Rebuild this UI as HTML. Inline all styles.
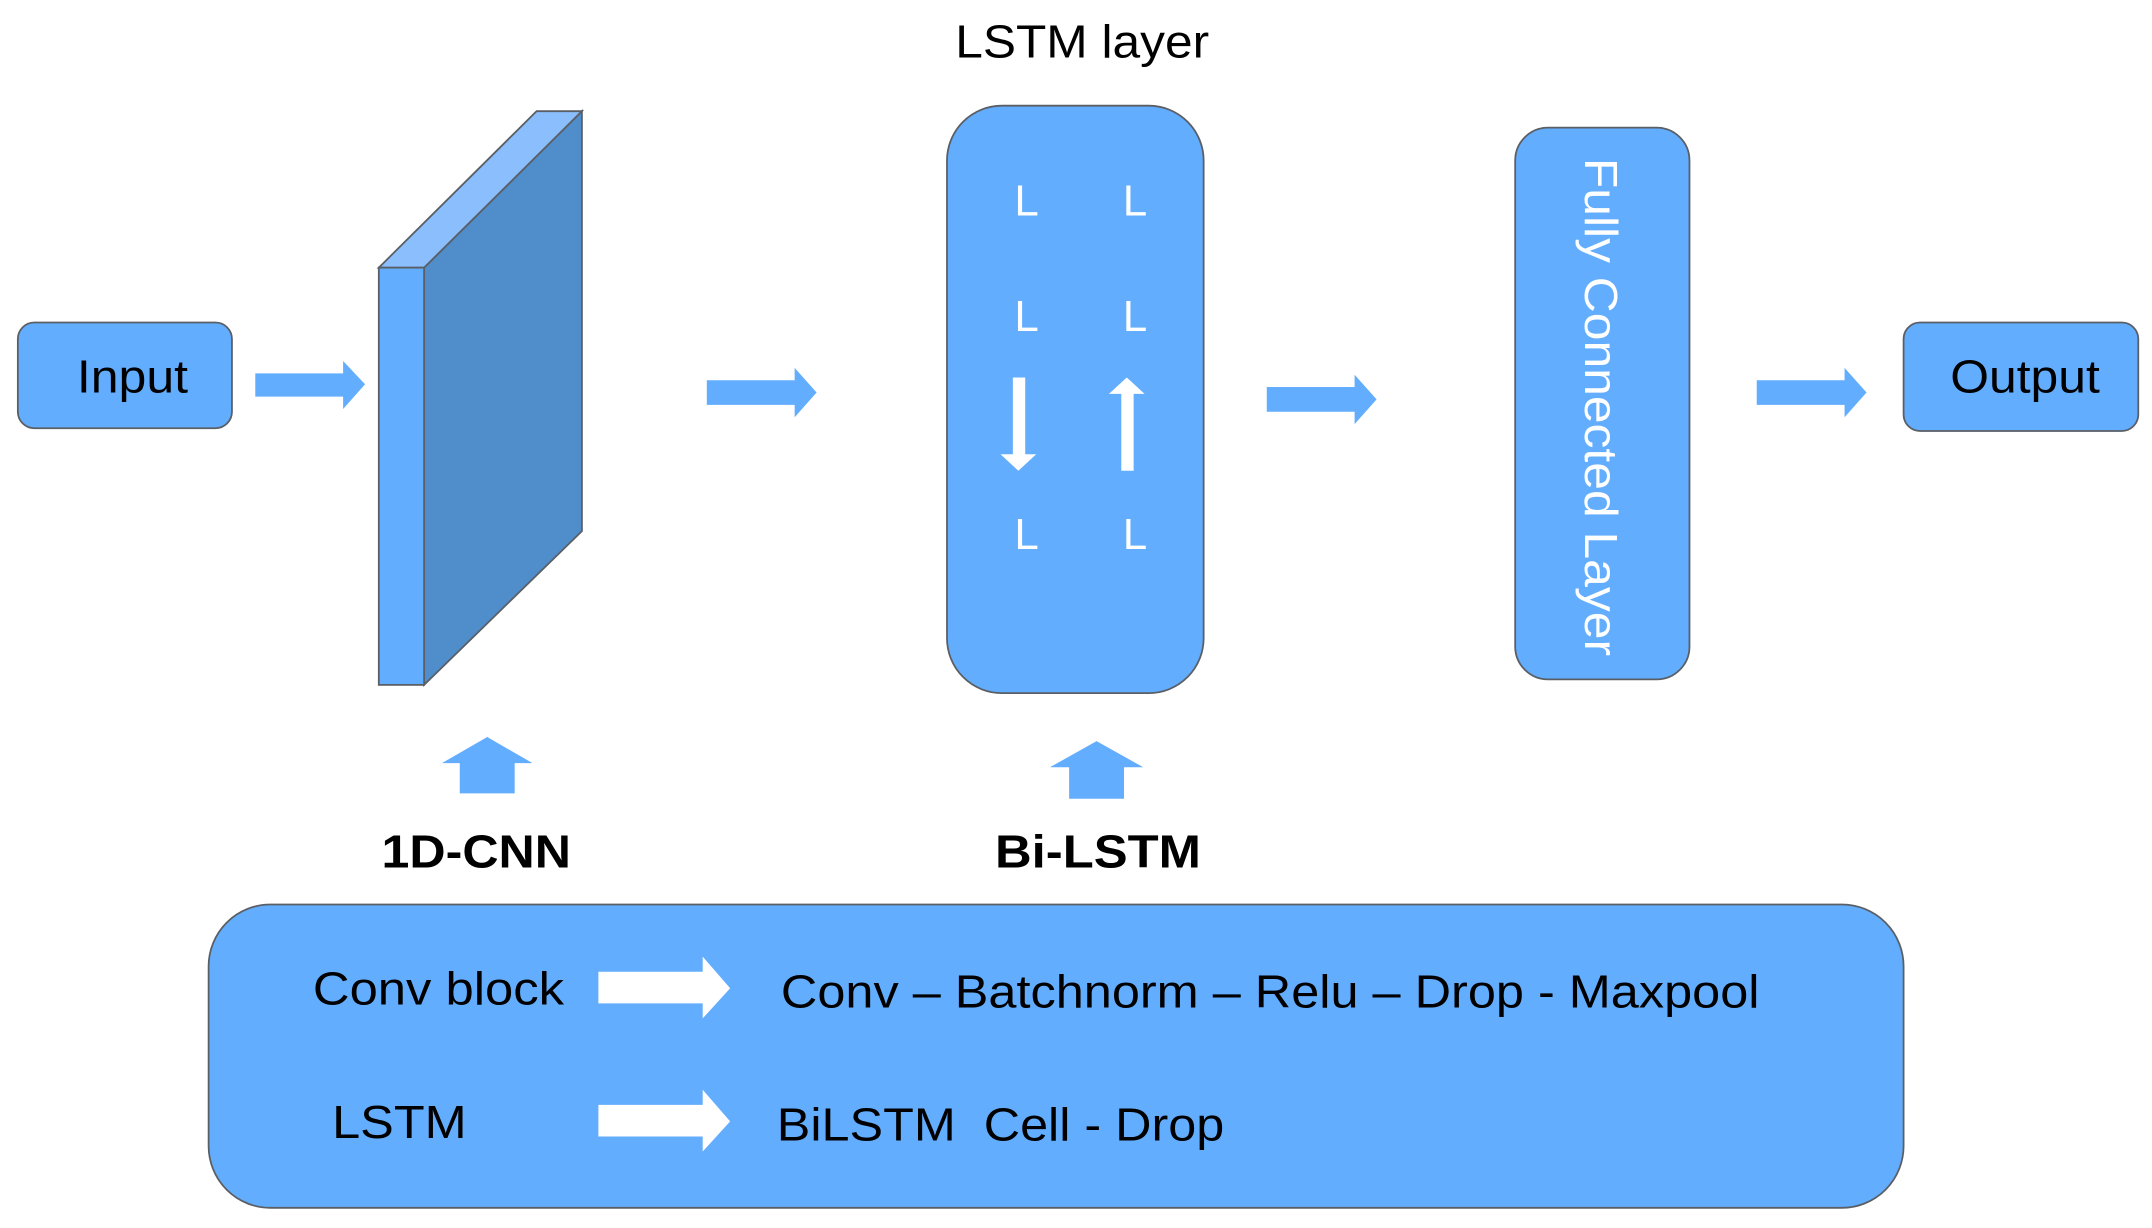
<!DOCTYPE html>
<html><head><meta charset="utf-8"><style>
html,body{margin:0;padding:0;background:#fff;}
svg{display:block;}
text{font-family:"Liberation Sans",Arial,sans-serif;}
</style></head><body>
<svg width="2152" height="1228" viewBox="0 0 1568 894.7" preserveAspectRatio="none" xmlns="http://www.w3.org/2000/svg">
<g stroke="#5a5f66" stroke-width="1.3">
<rect x="13" y="235" width="156" height="77" rx="12" fill="#63adfe"/>
<polygon points="309,195 424,81 424,387 309,499" fill="#4f8dcb"/>
<polygon points="276,195 391,81 424,81 309,195" fill="#8abefc"/>
<rect x="276" y="195" width="33" height="304" fill="#63adfe"/>
<rect x="690" y="77" width="187" height="428" rx="40" fill="#63adfe"/>
<rect x="1104" y="93" width="127" height="402" rx="24" fill="#63adfe"/>
<rect x="1387" y="235" width="171" height="79" rx="12" fill="#63adfe"/>
<rect x="152" y="659" width="1235" height="221" rx="45" fill="#63adfe"/>
</g>
<g fill="#63adfe">
<polygon points="186,272 250,272 250,263 266,280 250,298 250,289 186,289"/>
<polygon points="515,277 579,277 579,268 595,286 579,304 579,295 515,295"/>
<polygon points="923,282 987,282 987,273 1003,291 987,309 987,300 923,300"/>
<polygon points="1280,277 1344,277 1344,268 1360,286 1344,304 1344,295 1280,295"/>
<polygon points="355,537 388,556 375,556 375,578 335,578 335,556 322,556"/>
<polygon points="799,540 833,559 819,559 819,582 779,582 779,559 765,559"/>
</g>
<g fill="#fff">
<polygon points="738,275 747,275 747,331 755,331 742,343 729,331 738,331"/>
<polygon points="817,343 826,343 826,287 834,287 821,275 808,287 817,287"/>
<polygon points="436,708 512,708 512,697 532,720 512,742 512,731 436,731"/>
<polygon points="436,805 512,805 512,794 532,817 512,839 512,828 436,828"/>
</g>
<g font-size="32" fill="#fff" text-anchor="middle">
<text x="748" y="157">L</text><text x="827" y="157">L</text>
<text x="748" y="241">L</text><text x="827" y="241">L</text>
<text x="748" y="400">L</text><text x="827" y="400">L</text>
</g>
<text x="1155" y="115" font-size="34" fill="#fff" transform="rotate(90 1155 115)" textLength="363" lengthAdjust="spacingAndGlyphs">Fully Connected Layer</text>
<g font-size="34" fill="#000" lengthAdjust="spacingAndGlyphs">
<text x="56" y="286" textLength="81" lengthAdjust="spacingAndGlyphs">Input</text>
<text x="1421" y="286" textLength="109" lengthAdjust="spacingAndGlyphs">Output</text>
<text x="696" y="42" textLength="185" lengthAdjust="spacingAndGlyphs">LSTM layer</text>
<text x="278" y="632" font-weight="bold" textLength="138" lengthAdjust="spacingAndGlyphs">1D-CNN</text>
<text x="725" y="632" font-weight="bold" textLength="150" lengthAdjust="spacingAndGlyphs">Bi-LSTM</text>
<text x="228" y="732" textLength="183" lengthAdjust="spacingAndGlyphs">Conv block</text>
<text x="569" y="734" textLength="713" lengthAdjust="spacingAndGlyphs">Conv – Batchnorm – Relu – Drop - Maxpool</text>
<text x="242" y="829" textLength="98" lengthAdjust="spacingAndGlyphs">LSTM</text>
<text x="566" y="831" xml:space="preserve" textLength="326" lengthAdjust="spacingAndGlyphs">BiLSTM  Cell - Drop</text>
</g>
</svg>
</body></html>
